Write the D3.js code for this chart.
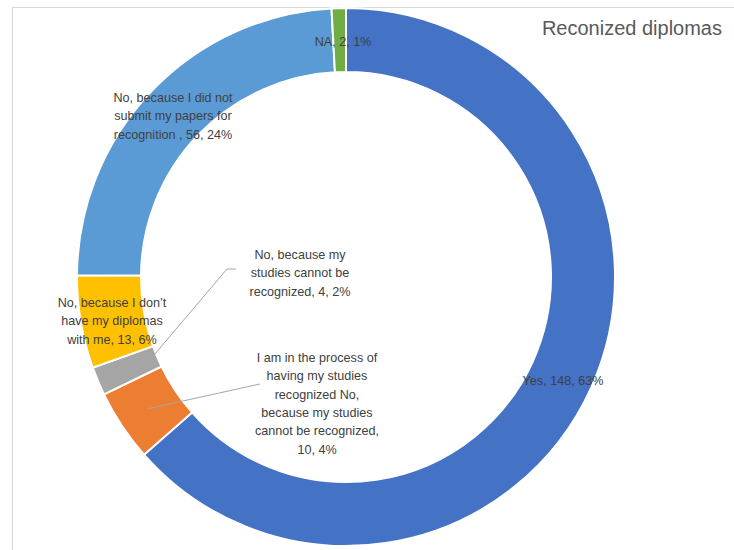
<!DOCTYPE html>
<html>
<head>
<meta charset="utf-8">
<script src="https://cdn.jsdelivr.net/npm/d3@7"></script>
<style>
  html, body { margin: 0; padding: 0; background: #fff; }
  svg { display: block; }
</style>
</head>
<body>
<svg id="chart" width="734" height="550"></svg>
<script>
// ---- data ----
const categories = [
  "Yes",
  "I am in the process of having my studies recognized No, because my studies cannot be recognized",
  "No, because my studies cannot be recognized",
  "No, because I don’t have my diplomas with me",
  "No, because I did not submit my papers for recognition ",
  "NA"
];
const values = [148, 10, 4, 13, 56, 2];
const percentLabels = ["63%", "4%", "2%", "6%", "24%", "1%"];
const colors = ["#4472C4", "#ED7D31", "#A5A5A5", "#FFC000", "#5B9BD5", "#70AD47"];
const title = "Reconized diplomas";

// ---- label layout (positions of the wrapped labels) ----
const labelLines = [
  ["Yes, 148, 63%"],
  ["I am in the process of", "having my studies", "recognized No,", "because my studies", "cannot be recognized,", "10, 4%"],
  ["No, because my", "studies cannot be", "recognized, 4, 2%"],
  ["No, because I don’t", "have my diplomas", "with me, 13, 6%"],
  ["No, because I did not", "submit my papers for", "recognition , 56, 24%"],
  ["NA, 2, 1%"]
];
const labelPos = [
  {x: 563, y: 381}, {x: 317, y: 358}, {x: 300, y: 255},
  {x: 112, y: 303}, {x: 173, y: 98}, {x: 343, y: 42}
];
// leader lines: start point near label, optional elbow, radius of end on slice
const leaders = [
  null,
  {pts: [[260, 384]], r: 238},
  {pts: [[236, 269], [227, 269]], r: 212},
  null, null, null
];

const svg = d3.select("#chart");
const cx = 346, cy = 277, rOuter = 269, rInner = 205;
const lineH = 18.3;

// frame
svg.append("path")
  .attr("d", "M12.5,560 L12.5,7.5 L740,7.5")
  .attr("fill", "none").attr("stroke", "#d9d9d9").attr("stroke-width", 1.2);

const data = categories.map((c, i) => ({cat: c, value: values[i], pct: percentLabels[i], color: colors[i], i}));
const pie = d3.pie().sort(null).value(d => d.value).startAngle(0).endAngle(2 * Math.PI);
const arcs = pie(data);
const arc = d3.arc().innerRadius(rInner).outerRadius(rOuter);

const g = svg.append("g").attr("transform", `translate(${cx},${cy})`);
g.selectAll("path.slice").data(arcs).enter().append("path")
  .attr("class", "slice")
  .attr("d", arc)
  .attr("fill", d => d.data.color)
  .attr("stroke", "#fff")
  .attr("stroke-width", 2)
  .attr("stroke-linejoin", "miter");

// leader lines
arcs.forEach((a, i) => {
  const L = leaders[i];
  if (!L) return;
  const mid = (a.startAngle + a.endAngle) / 2;
  const end = [cx + L.r * Math.sin(mid), cy - L.r * Math.cos(mid)];
  const pts = L.pts.concat([end]);
  svg.append("path")
    .attr("d", d3.line()(pts))
    .attr("fill", "none")
    .attr("stroke", "#a6a6a6")
    .attr("stroke-width", 1);
});

// labels
const fontFam = "'Liberation Sans', Arial, sans-serif";
arcs.forEach((a, i) => {
  const t = svg.append("text")
    .attr("x", labelPos[i].x).attr("y", labelPos[i].y)
    .attr("text-anchor", "middle")
    .attr("font-family", fontFam)
    .attr("font-size", 12.6)
    .attr("fill", "#404040");
  labelLines[i].forEach((ln, k) => {
    t.append("tspan")
      .attr("x", labelPos[i].x)
      .attr("y", labelPos[i].y + k * lineH)
      .attr("dominant-baseline", "central")
      .text(ln);
  });
});

// title
svg.append("text")
  .attr("x", 722).attr("y", 28)
  .attr("text-anchor", "end")
  .attr("dominant-baseline", "central")
  .attr("font-family", fontFam)
  .attr("font-size", 20)
  .attr("fill", "#595959")
  .text(title);
</script>
</body>
</html>
